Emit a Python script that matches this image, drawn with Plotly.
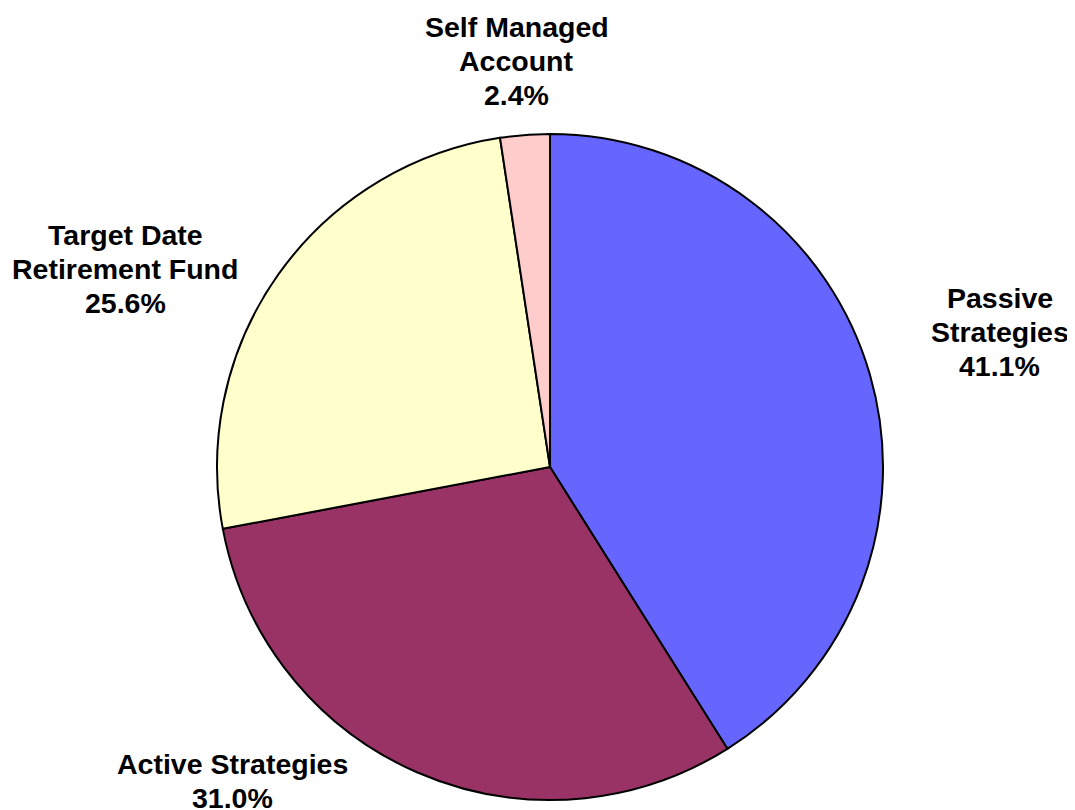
import math
import plotly.graph_objects as go

labels = ["Passive Strategies", "Active Strategies", "Target Date Retirement Fund", "Self Managed Account"]
label_lines = [["Passive", "Strategies"], ["Active Strategies"], ["Target Date", "Retirement Fund"], ["Self Managed", "Account"]]
values = [41.1, 31.0, 25.6, 2.4]
colors = ["#6666FF", "#993366", "#FFFFCC", "#FFCCCC"]
# label offsets (pixels) from the slice's mid-angle point on the rim
label_shift_x = [130, -184, -153, -8]
label_shift_y = [43, -9, 5, 74]
LINE_GAP = 34

W, H = 1075, 810
dom_x = [0.1944, 0.8140]
dom_y = [0.0222, 0.8444]

fig = go.Figure(go.Pie(
    labels=labels,
    values=values,
    sort=False,
    direction="clockwise",
    rotation=0,
    marker=dict(colors=colors, line=dict(color="black", width=2)),
    textinfo="none",
    domain=dict(x=dom_x, y=dom_y),
    hoverinfo="label+percent",
    showlegend=False,
))

# label positions derived from slice mid-angles
cx = (dom_x[0] + dom_x[1]) / 2
cy = (dom_y[0] + dom_y[1]) / 2
r_px = min((dom_x[1] - dom_x[0]) * W, (dom_y[1] - dom_y[0]) * H) / 2
total = sum(values)
cum = 0.0
for i, v in enumerate(values):
    mid = (cum + v / 2) / total * 2 * math.pi
    cum += v
    px = cx + r_px * math.sin(mid) / W
    py = cy + r_px * math.cos(mid) / H
    lines = label_lines[i] + ["%.1f%%" % v]
    n = len(lines)
    for k, line in enumerate(lines):
        fig.add_annotation(
            x=px, y=py, xref="paper", yref="paper",
            text="<b>%s</b>" % line,
            showarrow=False, xanchor="center", yanchor="middle", align="center",
            xshift=label_shift_x[i],
            yshift=label_shift_y[i] + ((n - 1) / 2 - k) * LINE_GAP,
            font=dict(family="Liberation Sans, Arial, sans-serif", size=28.5, color="black"),
        )

fig.update_layout(
    width=W, height=H,
    margin=dict(l=0, r=0, t=0, b=0),
    paper_bgcolor="white",
    font=dict(family="Liberation Sans, Arial, sans-serif", size=20, color="black"),
)
fig.write_html("out.html")
